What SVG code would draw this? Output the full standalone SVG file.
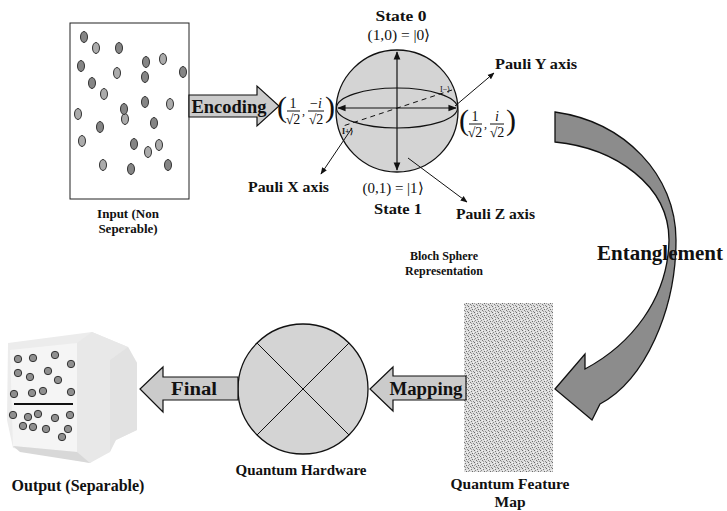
<svg xmlns="http://www.w3.org/2000/svg" width="727" height="511" viewBox="0 0 727 511">
  <style>
    .lbl { font-family: "Liberation Serif", "Times New Roman", serif; font-weight: bold; fill: #111; }
    .math { font-family: "Liberation Serif", "Times New Roman", serif; fill: #111; }
    .dk { fill: #858585; stroke: #333; stroke-width: 1; }
    .lt { fill: #ababab; stroke: #333; stroke-width: 1; }
    .dot { fill: #8f8f8f; stroke: #333; stroke-width: 1; }
    .blockarrow { fill: #cbcbcb; stroke: #111; stroke-width: 1.2; stroke-linejoin: miter; }
    .axis { stroke: #111; stroke-width: 1.2; fill: none; }
    .thin { stroke: #111; stroke-width: 1; fill: none; }
  </style>
  <defs>
    <marker id="ah" viewBox="0 0 10 10" refX="9" refY="5" markerWidth="7" markerHeight="7" orient="auto-start-reverse">
      <path d="M0,1 L10,5 L0,9 z" fill="#111"/>
    </marker>
    <pattern id="grain" width="6" height="6" patternUnits="userSpaceOnUse">
      <rect width="6" height="6" fill="#dedede"/>
      <rect x="0" y="0" width="1" height="1" fill="#6a6a6a"/>
      <rect x="3" y="1" width="1" height="1" fill="#7a7a7a"/>
      <rect x="1" y="2" width="1" height="1" fill="#8a8a8a"/>
      <rect x="4" y="3" width="1" height="1" fill="#6a6a6a"/>
      <rect x="2" y="4" width="1" height="1" fill="#7a7a7a"/>
      <rect x="5" y="5" width="1" height="1" fill="#8a8a8a"/>
      <rect x="0" y="3" width="1" height="1" fill="#a0a0a0"/>
      <rect x="3" y="5" width="1" height="1" fill="#a0a0a0"/>
      <rect x="5" y="2" width="1" height="1" fill="#f4f4f4"/>
      <rect x="2" y="0" width="1" height="1" fill="#f4f4f4"/>
    </pattern>
  </defs>

  <!-- Input data box with scattered samples -->
  <g id="input">
    <rect x="70" y="23" width="119" height="176" fill="#fff" stroke="#222" stroke-width="1"/>
    <ellipse class="dk" cx="84" cy="37" rx="3.5" ry="5.5"/>
    <ellipse class="lt" cx="96" cy="48" rx="3.5" ry="5.5"/>
    <ellipse class="dk" cx="119" cy="48" rx="3.5" ry="5.5"/>
    <ellipse class="dk" cx="81" cy="66" rx="3.5" ry="5.5"/>
    <ellipse class="lt" cx="117" cy="73" rx="3.5" ry="5.5"/>
    <ellipse class="dk" cx="146" cy="62" rx="3.5" ry="5.5"/>
    <ellipse class="lt" cx="163" cy="59" rx="3.5" ry="5.5"/>
    <ellipse class="dk" cx="145" cy="77" rx="3.5" ry="5.5"/>
    <ellipse class="dk" cx="183" cy="72" rx="3.5" ry="5.5"/>
    <ellipse class="dk" cx="92" cy="83" rx="3.5" ry="5.5"/>
    <ellipse class="lt" cx="104" cy="94" rx="3.5" ry="5.5"/>
    <ellipse class="dk" cx="145" cy="102" rx="3.5" ry="5.5"/>
    <ellipse class="lt" cx="170" cy="104" rx="3.5" ry="5.5"/>
    <ellipse class="lt" cx="125" cy="119" rx="3.5" ry="5.5"/>
    <ellipse class="dk" cx="124" cy="109" rx="3.5" ry="5.5"/>
    <ellipse class="lt" cx="78" cy="114" rx="3.5" ry="5.5"/>
    <ellipse class="dk" cx="100" cy="127" rx="3.5" ry="5.5"/>
    <ellipse class="dk" cx="154" cy="123" rx="3.5" ry="5.5"/>
    <ellipse class="lt" cx="82" cy="141" rx="3.5" ry="5.5"/>
    <ellipse class="dk" cx="134" cy="144" rx="3.5" ry="5.5"/>
    <ellipse class="lt" cx="148" cy="152" rx="3.5" ry="5.5"/>
    <ellipse class="lt" cx="159" cy="145" rx="3.5" ry="5.5"/>
    <ellipse class="lt" cx="103" cy="165" rx="3.5" ry="5.5"/>
    <ellipse class="dk" cx="131" cy="169" rx="3.5" ry="5.5"/>
    <ellipse class="dk" cx="168" cy="165" rx="3.5" ry="5.5"/>
    <text class="lbl" x="128" y="218" font-size="13" text-anchor="middle">Input (Non</text>
    <text class="lbl" x="128" y="233" font-size="13" text-anchor="middle">Seperable)</text>
  </g>

  <!-- Bloch sphere -->
  <g id="bloch">
    <circle cx="397" cy="111" r="61" fill="#d4d4d4" stroke="#111" stroke-width="1.3"/>
    <ellipse cx="397" cy="108" rx="60.5" ry="20" fill="none" stroke="#111" stroke-width="1.1"/>
    <line class="axis" x1="397" y1="52" x2="397" y2="170" marker-start="url(#ah)" marker-end="url(#ah)"/>
    <line class="axis" x1="338" y1="108" x2="456" y2="108" marker-start="url(#ah)" marker-end="url(#ah)"/>
    <line x1="452" y1="90" x2="343" y2="126" stroke="#111" stroke-width="1" stroke-dasharray="5,4"/>
    <text class="math" x="440" y="92" font-size="8">I−⟩</text>
    <text class="math" x="342" y="134" font-size="8" font-weight="bold">I+⟩</text>
    <text class="lbl" x="401" y="21" font-size="15" text-anchor="middle" textLength="51" lengthAdjust="spacingAndGlyphs">State 0</text>
    <text class="math" x="399" y="40" font-size="15" text-anchor="middle" textLength="63" lengthAdjust="spacingAndGlyphs">(1,0) = |0⟩</text>
    <text class="math" x="393" y="193" font-size="15" text-anchor="middle" textLength="61" lengthAdjust="spacingAndGlyphs">(0,1) = |1⟩</text>
    <text class="lbl" x="398" y="214" font-size="15" text-anchor="middle" textLength="48" lengthAdjust="spacingAndGlyphs">State 1</text>

    <!-- left coordinate (1/√2, −i/√2) -->
    <text class="math" x="277" y="121" font-size="30" transform="translate(0,-4)">(</text>
    <text class="math" x="293" y="108" font-size="14" text-anchor="middle">1</text>
    <line class="thin" x1="287" y1="111" x2="300" y2="111"/>
    <text class="math" x="293" y="124" font-size="14" text-anchor="middle">√2</text>
    <text class="math" x="302" y="115" font-size="12">,</text>
    <text class="math" x="316" y="108" font-size="14" text-anchor="middle">−<tspan font-style="italic">i</tspan></text>
    <line class="thin" x1="308" y1="111" x2="324" y2="111"/>
    <text class="math" x="316" y="124" font-size="14" text-anchor="middle">√2</text>
    <text class="math" x="325" y="121" font-size="30" transform="translate(0,-4)">)</text>

    <!-- right coordinate (1/√2, i/√2) -->
    <text class="math" x="459" y="134" font-size="30" transform="translate(0,-4)">(</text>
    <text class="math" x="475" y="121" font-size="14" text-anchor="middle">1</text>
    <line class="thin" x1="469" y1="124" x2="482" y2="124"/>
    <text class="math" x="475" y="137" font-size="14" text-anchor="middle">√2</text>
    <text class="math" x="484" y="128" font-size="12">,</text>
    <text class="math" x="497" y="121" font-size="14" text-anchor="middle" font-style="italic">i</text>
    <line class="thin" x1="490" y1="124" x2="504" y2="124"/>
    <text class="math" x="497" y="137" font-size="14" text-anchor="middle">√2</text>
    <text class="math" x="506" y="134" font-size="30" transform="translate(0,-4)">)</text>

    <text class="lbl" x="444" y="260" font-size="12" text-anchor="middle">Bloch Sphere</text>
    <text class="lbl" x="444" y="275" font-size="12" text-anchor="middle">Representation</text>
  </g>

  <!-- Pauli axis callouts -->
  <g id="pauli-labels">
    <line class="thin" x1="455" y1="106" x2="494" y2="73" marker-end="url(#ah)"/>
    <text class="lbl" x="495" y="69" font-size="14.5" textLength="82" lengthAdjust="spacingAndGlyphs">Pauli Y axis</text>
    <line class="thin" x1="352" y1="128" x2="321" y2="174" marker-end="url(#ah)"/>
    <text class="lbl" x="248" y="192" font-size="14.5" textLength="81" lengthAdjust="spacingAndGlyphs">Pauli X axis</text>
    <line class="thin" x1="408" y1="158" x2="467" y2="202" marker-end="url(#ah)"/>
    <text class="lbl" x="456" y="219" font-size="14.5" textLength="79" lengthAdjust="spacingAndGlyphs">Pauli Z axis</text>
  </g>

  <!-- Quantum feature map -->
  <g id="feature-map">
    <rect x="464" y="303" width="89" height="169" fill="url(#grain)"/>
    <text class="lbl" x="510" y="489" font-size="15.5" text-anchor="middle">Quantum Feature</text>
    <text class="lbl" x="510" y="507" font-size="15.5" text-anchor="middle">Map</text>
  </g>

  <!-- Quantum hardware -->
  <g id="hardware">
    <circle cx="303" cy="389" r="65" fill="#d4d4d4" stroke="#111" stroke-width="1.3"/>
    <line class="thin" x1="257" y1="343" x2="349" y2="435"/>
    <line class="thin" x1="349" y1="343" x2="257" y2="435"/>
    <text class="lbl" x="301" y="475" font-size="15" text-anchor="middle">Quantum Hardware</text>
  </g>

  <!-- Separable output -->
  <g id="output">
    <polygon points="8,343 92,332 128,347 137,363 137,430 116,440 90,463 13,448 7,420" fill="#ececec"/>
    <polygon points="10,350 77,343 77,452 13,446" fill="#f5f5f5"/>
    <polygon points="77,343 92,332 128,347 110,360 110,452 90,463 77,452" fill="#e8e8e8"/>
    <polygon points="110,360 128,347 137,363 137,430 116,440 110,452" fill="#e2e2e2"/>
    <polygon points="13,446 77,452 90,463 20,452" fill="#d8d8d8"/>
    <circle class="dot" cx="18" cy="359" r="3.7"/>
    <circle class="dot" cx="33" cy="358" r="3.7"/>
    <circle class="dot" cx="55" cy="355" r="3.7"/>
    <circle class="dot" cx="71" cy="364" r="3.7"/>
    <circle class="dot" cx="18" cy="373" r="3.7"/>
    <circle class="dot" cx="30" cy="377" r="3.7"/>
    <circle class="dot" cx="48" cy="371" r="3.7"/>
    <circle class="dot" cx="58" cy="380" r="3.7"/>
    <circle class="dot" cx="14" cy="394" r="3.7"/>
    <circle class="dot" cx="32" cy="393" r="3.7"/>
    <circle class="dot" cx="43" cy="391" r="3.7"/>
    <circle class="dot" cx="71" cy="392" r="3.7"/>
    <line x1="14" y1="404" x2="73" y2="404" stroke="#111" stroke-width="2"/>
    <circle class="dot" cx="13" cy="415" r="3.7"/>
    <circle class="dot" cx="28" cy="417" r="3.7"/>
    <circle class="dot" cx="38" cy="414" r="3.7"/>
    <circle class="dot" cx="55" cy="418" r="3.7"/>
    <circle class="dot" cx="70" cy="415" r="3.7"/>
    <circle class="dot" cx="23" cy="426" r="3.7"/>
    <circle class="dot" cx="33" cy="427" r="3.7"/>
    <circle class="dot" cx="46" cy="429" r="3.7"/>
    <circle class="dot" cx="68" cy="429" r="3.7"/>
    <circle class="dot" cx="62" cy="437" r="3.7"/>
    <text class="lbl" x="78" y="491" font-size="16" text-anchor="middle">Output (Separable)</text>
  </g>

  <!-- Process arrows -->
  <g id="connectors">
    <!-- Encoding -->
    <polygon class="blockarrow" points="189,95 257,95 257,86 279,106 257,126 257,117 189,117"/>
    <text class="lbl" x="229" y="113" font-size="18" text-anchor="middle" textLength="75" lengthAdjust="spacingAndGlyphs">Encoding</text>
    <!-- Entanglement (curved) -->
    <path d="M555,112 C625,122 676,175 676,240 C676,310 645,380 600,404 L592,420 L555,389 L585,354 L585,369 C630,345 668,300 669,240 C669,185 615,148 555,142 Z" fill="#8c8c8c" stroke="#111" stroke-width="1.3" stroke-linejoin="miter"/>
    <text class="lbl" x="660" y="260" font-size="20" text-anchor="middle" textLength="126" lengthAdjust="spacingAndGlyphs">Entanglement</text>
    <!-- Mapping -->
    <polygon class="blockarrow" points="466,376 393,376 393,367 370,389 393,411 393,400 466,400"/>
    <text class="lbl" x="426" y="395" font-size="18" text-anchor="middle" textLength="73" lengthAdjust="spacingAndGlyphs">Mapping</text>
    <!-- Final -->
    <polygon class="blockarrow" points="238,377 163,377 163,367 140,389 163,412 163,400 238,400"/>
    <text class="lbl" x="194" y="395" font-size="18" text-anchor="middle" textLength="46" lengthAdjust="spacingAndGlyphs">Final</text>
  </g>
</svg>
